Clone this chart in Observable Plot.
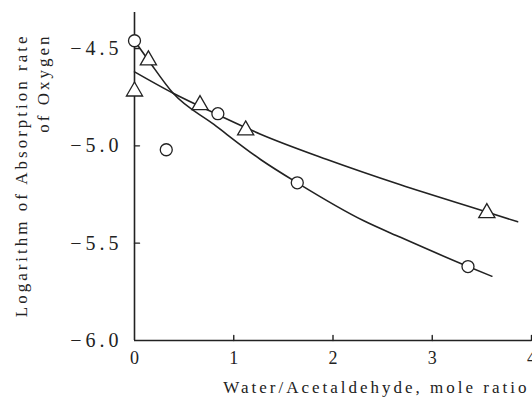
<!DOCTYPE html>
<html><head><meta charset="utf-8">
<script src="https://cdn.jsdelivr.net/npm/d3@7"></script>
<script src="https://cdn.jsdelivr.net/npm/@observablehq/plot@0.6"></script>
<style>body{margin:0;background:#fff}</style>
</head><body><div id="chart"></div>
<script>
const circleX = [0, 0.32, 0.84, 1.64, 3.36];
const circleY = [-4.46, -5.02, -4.835, -5.19, -5.62];
const triangleX = [0, 0.14, 0.66, 1.12, 3.55];
const triangleY = [-4.72, -4.56, -4.79, -4.92, -5.345];
const steepCurveX = [0, 0.14, 0.39, 0.8, 1.27, 1.64, 2.31, 2.68, 3.36, 3.6];
const steepCurveY = [-4.46, -4.56, -4.73, -4.89, -5.07, -5.19, -5.385, -5.47, -5.62, -5.67];
const flatCurveX = [0, 0.39, 0.84, 1.27, 1.94, 2.68, 3.55, 3.86];
const flatCurveY = [-4.62, -4.73, -4.84, -4.94, -5.07, -5.20, -5.34, -5.39];
const xTicks = [0, 1, 2, 3, 4];
const yTicks = [-6, -5.5, -5, -4.5];
const xInnerTicks = [1, 2, 3, 4];
const yInnerTicks = [-5.5, -5, -4.5];
const xLabel = "Water/Acetaldehyde, mole ratio";
const yLabel = "Logarithm of Absorption rate\nof Oxygen";

const toRows = (xs, ys) => xs.map((x, i) => ({x, y: ys[i]}));
const circles = toRows(circleX, circleY);
const triangles = toRows(triangleX, triangleY);
const steep = toRows(steepCurveX, steepCurveY);
const flat = toRows(flatCurveX, flatCurveY);
const ink = "#222";
const tickShape = {draw(context, l) { context.moveTo(0, 0); context.lineTo(0, -l); }};

const plot = Plot.plot({
  width: 532, height: 402,
  marginLeft: 134, marginRight: 1, marginTop: 12, marginBottom: 62,
  x: {domain: [0, 4]},
  y: {domain: [-6, -4.315]},
  style: {fontFamily: "'Liberation Serif', serif", color: ink, background: "#fff"},
  marks: [
    Plot.ruleX([0], {stroke: ink, strokeWidth: 1.6}),
    Plot.ruleY([-6], {stroke: ink, strokeWidth: 1.6}),
    Plot.vector(xInnerTicks, {x: d => d, frameAnchor: "bottom", length: 5, rotate: 0, anchor: "start", shape: tickShape, stroke: ink, strokeWidth: 1.4}),
    Plot.vector(yInnerTicks, {y: d => d, frameAnchor: "left", length: 5, rotate: 90, anchor: "start", shape: tickShape, stroke: ink, strokeWidth: 1.4}),
    Plot.axisX({ticks: xTicks, tickSize: 0, tickPadding: 11, fontSize: 18, label: null, tickFormat: d => String(d)}),
    Plot.axisY({ticks: yTicks, tickSize: 0, tickPadding: 12, fontSize: 20, label: null,
      tickFormat: d => d.toFixed(1).replace("-", "\u2212")}),
    Plot.line(steep, {x: "x", y: "y", curve: "monotone-x", stroke: ink, strokeWidth: 1.6}),
    Plot.line(flat, {x: "x", y: "y", curve: "monotone-x", stroke: ink, strokeWidth: 1.6}),
    Plot.dot(circles, {x: "x", y: "y", r: 6, stroke: ink, fill: "white", strokeWidth: 1.3}),
    Plot.dot(triangles, {x: "x", y: "y", symbol: "triangle", r: 6, stroke: ink, fill: "white", strokeWidth: 1.3}),
    Plot.text([xLabel], {text: d => d, frameAnchor: "bottom-right", dy: 52, dx: -2, textAnchor: "end", fontSize: 17}),
    Plot.text([yLabel], {text: d => d, frameAnchor: "top-left", dx: -123, dy: 21, rotate: -90, textAnchor: "end", fontSize: 17, lineHeight: 1.3})
  ]
});
const svg = d3.select(plot);
svg.selectAll("text").each(function() {
  const t = this.textContent;
  if (/^[\u2212\-]?\d\.\d$/.test(t)) d3.select(this).style("letter-spacing", "4px");
  else if (t.length > 3) d3.select(this).style("letter-spacing", "3px");
});
document.getElementById("chart").appendChild(plot);
</script>
</body></html>
